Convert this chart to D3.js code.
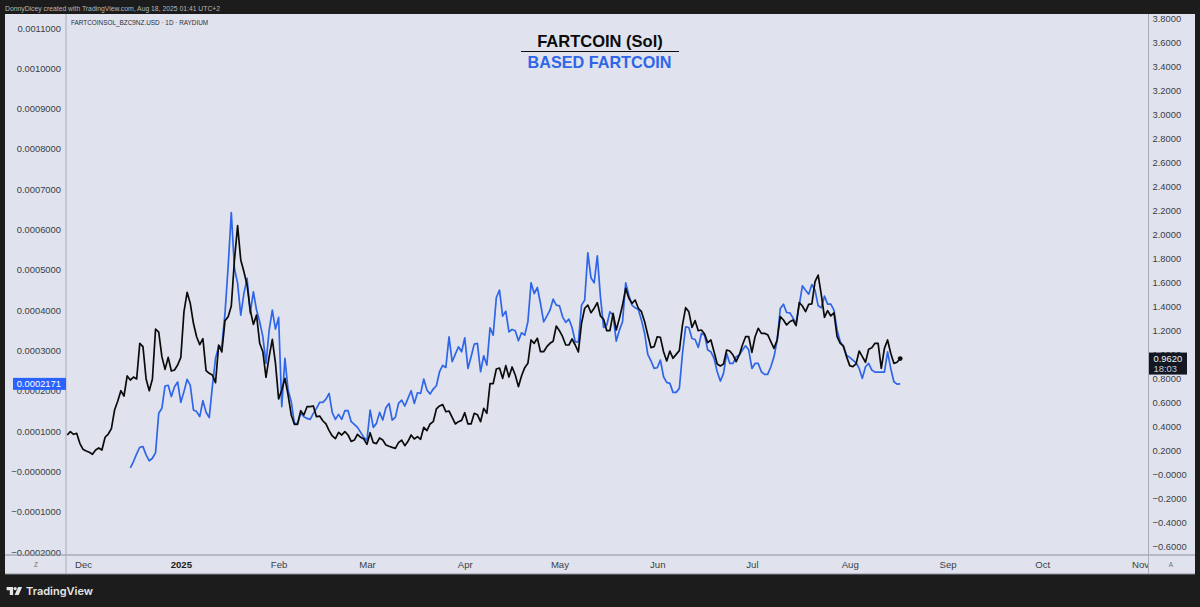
<!DOCTYPE html>
<html><head><meta charset="utf-8">
<script src="https://cdn.jsdelivr.net/npm/d3@7"></script>
<style>
html,body{margin:0;padding:0;background:#1c1c1c;overflow:hidden}
svg{display:block}
text{font-family:"Liberation Sans",Arial,sans-serif}
</style></head><body>
<svg id="c" width="1200" height="607"></svg>
<script>
const lastDay = "2025-08-17";
const fartcoinSol = [0.325,0.353,0.331,0.339,0.256,0.206,0.192,0.181,0.164,0.2,0.217,0.2,0.306,0.333,0.378,0.533,0.606,0.694,0.65,0.817,0.783,0.808,0.792,1.089,1.061,0.792,0.694,0.792,1.208,1.183,0.978,0.872,0.972,0.858,0.867,0.908,0.972,1.353,1.514,1.422,1.256,1.144,1.078,1.128,0.861,0.839,0.825,0.761,1.075,1.017,1.278,1.311,1.4,1.783,2.069,1.783,1.686,1.575,1.367,1.247,1.325,1.089,1.019,0.806,0.978,1.122,0.922,0.625,0.7,0.797,0.658,0.492,0.414,0.414,0.528,
0.492,0.561,0.561,0.567,0.478,0.483,0.444,0.417,0.361,0.317,0.294,0.347,0.325,0.353,0.325,0.272,0.283,0.331,0.306,0.292,0.247,0.344,0.261,0.253,0.3,0.283,0.242,0.231,0.222,0.214,0.261,0.283,0.236,0.272,0.325,0.292,0.311,0.289,0.389,0.361,0.417,0.436,0.542,0.567,0.578,0.519,0.525,0.472,0.417,0.436,0.447,0.511,0.417,0.417,0.506,0.494,0.436,0.547,0.506,0.753,0.753,0.875,0.883,0.797,0.903,0.808,0.892,0.825,0.728,0.819,0.886,0.922,1.117,1.089,1.131,1.019,1.019,1.061,1.089,1.106,1.233,1.194,1.144,1.075,1.075,1.125,1.075,1.017,1.256,1.381,1.408,1.344,1.381,1.428,1.317,
1.289,1.194,1.194,1.339,1.2,1.297,1.408,1.547,1.464,1.422,1.45,1.381,1.353,1.269,1.158,1.053,1.061,1.144,1.139,1.019,0.942,1.025,0.964,0.997,1.028,1.242,1.386,1.353,1.222,1.278,1.194,1.2,1.167,1.094,1.117,1.019,0.917,0.9,0.917,1.033,1.025,0.992,0.936,0.992,1.075,1.144,1.144,1.014,1.144,1.214,1.172,1.172,1.161,1.103,1.047,1.117,1.311,1.283,1.242,1.269,1.283,1.236,1.428,1.4,1.353,1.414,1.417,1.603,1.658,1.492,1.306,1.361,1.317,1.344,1.144,1.089,1.067,0.978,0.903,0.894,0.917,1.025,0.978,0.931,1.039,1.053,1.089,1.089,0.881,1.047,1.117,1.006,0.922,0.931,0.962];
const basedFartcoin = [0.0000087,0.0000244,0.0000434,0.0000599,0.0000615,0.0000409,0.000026,0.0000326,0.0000467,0.0001442,0.0001565,0.0002119,0.0002136,0.0001855,0.0002102,0.0002218,0.0001714,0.0001979,0.0002284,0.0002136,0.0001524,0.0001483,0.0001359,0.0001755,0.0001466,0.0001334,0.0002102,0.0002805,0.0003094,0.0003094,0.000392,0.0005076,0.0006423,0.0005035,0.0004663,0.0003878,0.0004416,0.0004787,0.000392,0.0004457,0.0004002,0.0003713,0.0003342,0.0002681,0.0003507,0.0004002,0.0003531,0.000382,0.0001607,0.0002805,0.000202,0.0001731,0.0001194,0.0001194,0.0001442,
0.0001356,0.0001315,0.000129,0.0001439,0.0001563,0.0001712,0.0001712,0.0001794,0.0001935,0.0001456,0.000129,0.0001414,0.000129,0.0001505,0.0001505,0.0001233,0.0001166,0.0001092,0.0000968,0.0000844,0.0000778,0.0001522,0.0001092,0.0001191,0.0001464,0.0001274,0.000158,0.0001687,0.0001274,0.000134,0.0001687,0.0001769,0.0001621,0.0001811,0.0002001,0.0001687,0.0001951,0.0001935,0.000229,0.0002017,0.0001918,0.0002042,0.0002125,0.0002472,0.0002629,0.0002579,0.0003339,0.000272,0.000291,0.0003091,0.0002967,0.0003314,0.0002554,0.0002843,0.0003157,0.0003174,0.0002472,0.0002868,0.0002637,0.0003562,0.000338,0.0004314,0.0004496,0.0003851,0.0003975,0.0003463,0.0003521,0.0003488,0.000324,0.0003438,0.000338,0.0003711,0.0004678,0.0004413,0.0004562,0.0004165,0.0003711,0.0003851,0.0004,0.0004272,0.0004124,0.0004107,0.0003835,0.0003695,0.0003777,0.000357,0.0003215,0.0003215,0.0004124,0.0004248,0.0005421,0.0004801,0.0004678,0.0005347,0.0004331,
0.000357,0.0003628,0.0003959,0.0003876,0.0003232,0.0003504,0.0003711,0.0004678,0.0004372,0.0004124,0.0004058,0.0004017,0.0003752,0.0003422,0.0002901,0.0002744,0.0002554,0.0002571,0.0002761,0.0002348,0.0002207,0.0002183,0.000196,0.000196,0.0002059,0.0002926,0.0003587,0.000357,0.0003298,0.0003273,0.0003075,0.0003422,0.000338,0.0003009,0.0002967,0.0002803,0.0002472,0.0002241,0.0002431,0.0002926,0.0002678,0.0002678,0.0002843,0.0002885,0.0003009,0.0003116,0.0003009,0.0002554,0.0002678,0.0002678,0.0002472,0.0002406,0.0002406,0.0002596,0.0002843,0.0003256,0.0004041,0.0004149,0.0003942,0.0003934,0.000381,0.000367,0.0004124,0.0004603,0.0004496,0.0004397,0.0004636,0.0004496,0.0004107,0.0004058,0.0004347,0.0004149,0.0004149,0.0004,0.0003504,0.0003215,0.0003091,0.0002885,0.0002827,0.0002761,0.0002695,0.0002554,0.0002307,0.0002596,0.0002678,0.0002513,0.0002463,0.0002463,0.0002463,0.0002463,0.0002967,0.0002554,0.0002224,0.0002166,0.0002171];
const leftTicks = [-0.0002,-0.0001,0,0.0001,0.0002,0.0003,0.0004,0.0005,0.0006,0.0007,0.0008,0.0009,0.001,0.0011];
const rightTicks = [-0.6,-0.4,-0.2,0,0.2,0.4,0.6,0.8,1,1.2,1.4,1.6,1.8,2,2.2,2.4,2.6,2.8,3,3.2,3.4,3.6,3.8];
const timeTicks = ["2024-12-01","2025-01-01","2025-02-01","2025-03-01","2025-04-01","2025-05-01","2025-06-01","2025-07-01","2025-08-01","2025-09-01","2025-10-01","2025-11-01"];
const timeLabels = ["Dec","2025","Feb","Mar","Apr","May","Jun","Jul","Aug","Sep","Oct","Nov"];

const ink="#131722", blue="#2f66e8", panel="#e0e3ee", rule="#a9adba", axisText="#3a3d45";
const svg=d3.select("#c");
const X0=5,X1=66,X2=1148.5,X3=1195,Y0=14,Y1=555,Y2=574;
svg.append("rect").attr("width",1200).attr("height",607).attr("fill","#1c1c1c");
svg.append("rect").attr("x",X0).attr("y",Y0).attr("width",X3-X0).attr("height",Y2-Y0).attr("fill",panel);

const x=d3.scaleUtc().domain([new Date("2024-12-01"),new Date("2025-11-01")]).range([83,1140]);
const yL=d3.scaleLinear().domain([-0.0002,0.0011]).range([552,28]);
const yR=d3.scaleLinear().domain([-0.6,3.8]).range([546,18]);
const dayMs=864e5, end=+new Date(lastDay);
const dateAt=(i,n)=>new Date(end-(n-1-i)*dayMs);

// axes
const fmt=(d,p)=>{const s=Math.abs(d).toFixed(p);return (d<=0?"\u2212":"")+s;};
const styleAxis=g=>{g.select(".domain").remove();g.selectAll(".tick line").remove();
  g.selectAll("text").attr("fill",axisText).style("font-size","9.4px").style("font-family",'"Liberation Sans",Arial,sans-serif');};
svg.append("g").attr("transform",`translate(${X1-5},0)`)
  .call(d3.axisLeft(yL).tickValues(leftTicks).tickSize(0).tickPadding(0).tickFormat(d=>fmt(d,7))).call(styleAxis);
svg.append("g").attr("transform",`translate(${X2+4},0)`)
  .call(d3.axisRight(yR).tickValues(rightTicks).tickSize(0).tickPadding(0).tickFormat(d=>fmt(d,4))).call(styleAxis);
const gx=svg.append("g").attr("transform",`translate(0,${Y1+6})`)
  .call(d3.axisBottom(x).tickValues(timeTicks.map(d=>new Date(d))).tickSize(0).tickPadding(0)
  .tickFormat((d,i)=>timeLabels[i])).call(styleAxis);
gx.selectAll("text").style("font-size","9.6px").attr("font-weight",(d,i)=>timeLabels[i]==="2025"?"bold":null)
  .attr("fill",(d,i)=>timeLabels[i]==="2025"?"#1a1a1a":axisText);

// frame rules
const hr=(a,b,y,c,w)=>svg.append("line").attr("x1",a).attr("x2",b).attr("y1",y).attr("y2",y).attr("stroke",c).attr("stroke-width",w);
const vr=(xx,a,b)=>svg.append("line").attr("x1",xx).attr("x2",xx).attr("y1",a).attr("y2",b).attr("stroke",rule).attr("stroke-width",1);
hr(X0,X3,Y1,"#8b8e99",1); hr(X0,X3,Y2,"#8b8e99",1);
vr(X1,Y0,Y2); vr(X2,Y0,Y2);

// series
const lineOf=(scale,n)=>d3.line().x((d,i)=>x(dateAt(i,n))).y(d=>scale(d));
svg.append("path").datum(basedFartcoin).attr("d",lineOf(yL,basedFartcoin.length))
  .attr("fill","none").attr("stroke",blue).attr("stroke-width",1.7).attr("stroke-linejoin","round");
svg.append("path").datum(fartcoinSol).attr("d",lineOf(yR,fartcoinSol.length))
  .attr("fill","none").attr("stroke","#0b0b0b").attr("stroke-width",1.7).attr("stroke-linejoin","round");
const lastV=fartcoinSol[fartcoinSol.length-1];
svg.append("circle").attr("cx",x(new Date(lastDay))).attr("cy",yR(lastV)).attr("r",2.4).attr("fill","#0b0b0b");

// last-value tags
svg.append("rect").attr("x",X2+.5).attr("y",yR(lastV)-6).attr("width",38).attr("height",22).attr("fill",ink);
svg.append("text").attr("x",X2+5).attr("y",yR(lastV)+3).attr("fill","#f2f3f6").attr("font-size",9.4).text(lastV.toFixed(4));
svg.append("text").attr("x",X2+5).attr("y",yR(lastV)+13.5).attr("fill","#c9ccd4").attr("font-size",9.4).text("18:03");
const lastB=basedFartcoin[basedFartcoin.length-1];
svg.append("rect").attr("x",13).attr("y",yL(lastB)-6).attr("width",53).attr("height",12).attr("fill","#2962ff");
svg.append("text").attr("x",61).attr("y",yL(lastB)+3.3).attr("text-anchor","end").attr("fill","#fff").attr("font-size",9.4).text(lastB.toFixed(7));

// titles and notes
svg.append("text").attr("x",600).attr("y",47).attr("text-anchor","middle").attr("font-weight","bold").attr("font-size",16.5).attr("fill","#0b0b0b").text("FARTCOIN (Sol)");
hr(521,679,51.5,"#0b0b0b",1.2);
svg.append("text").attr("x",599.5).attr("y",68).attr("text-anchor","middle").attr("font-weight","bold").attr("font-size",16.2).attr("fill",blue).text("BASED FARTCOIN");
svg.append("text").attr("x",5).attr("y",10.5).attr("fill","#b9b9b9").attr("font-size",6.8).text("DonnyDicey created with TradingView.com, Aug 18, 2025 01:41 UTC+2");
svg.append("text").attr("x",71).attr("y",25.3).attr("fill","#2a2d35").attr("font-size",6.4).text("FARTCOINSOL_BZC9NZ.USD \u00b7 1D \u00b7 RAYDIUM");
svg.append("text").attr("x",36).attr("y",567).attr("text-anchor","middle").attr("fill","#6b6e78").attr("font-size",6.5).text("Z");
svg.append("text").attr("x",1171).attr("y",567).attr("text-anchor","middle").attr("fill","#6b6e78").attr("font-size",6.5).text("A");

// brand
const logo=svg.append("g").attr("transform","translate(6.6,587)").attr("fill","#e6e6e6");
logo.append("path").attr("d","M0 0H6.5V8H3.2V3.2H0Z");
logo.append("circle").attr("cx",8.6).attr("cy",1.6).attr("r",1.6);
logo.append("path").attr("d","M11.5 0H15.5L12 8H8Z");
svg.append("text").attr("x",26).attr("y",595).attr("fill","#e6e6e6").attr("font-weight","600").attr("font-size",11)
  .style("font-family",'Inter,"Liberation Sans",sans-serif').text("TradingView");
</script></body></html>
